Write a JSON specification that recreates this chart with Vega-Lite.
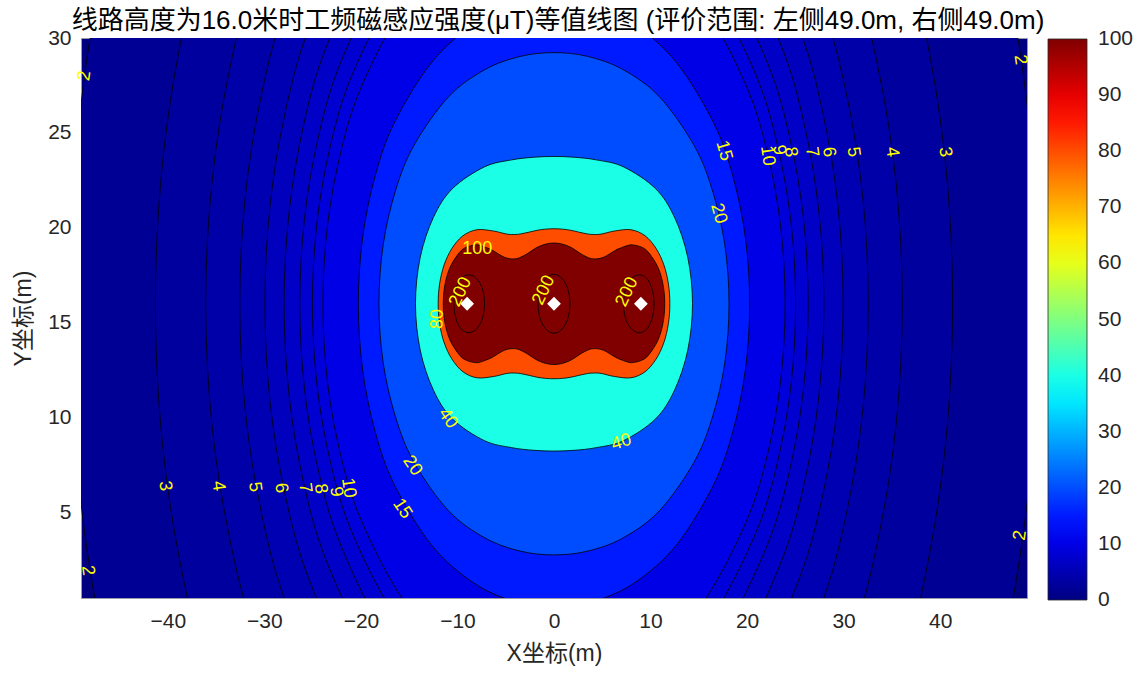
{
"$schema": "https://vega.github.io/schema/vega-lite/v6.json",
"width": 946, "height": 560,
"autosize": {"type": "none"},
"padding": {"left": 81, "top": 38, "right": 116, "bottom": 76},
"background": "white",
"view": {"fill": "#000080", "stroke": "#9a9aa8", "strokeWidth": 1},
"config": {"font": "Liberation Sans"},
"title": {"text": "线路高度为16.0米时工频磁感应强度(μT)等值线图 (评价范围: 左侧49.0m, 右侧49.0m)", "font": "Liberation Sans, Noto Sans CJK SC", "fontSize": 26, "fontWeight": "normal", "color": "#000000", "offset": -7, "anchor": "middle", "dx": 4},
"datasets": {
"c": [
{"lv":2,"g":"2","o":0,"x":50.19,"y":16},{"lv":2,"g":"2","o":1,"x":49.38,"y":24.71},{"lv":2,"g":"2","o":2,"x":46.98,"y":33.1},{"lv":2,"g":"2","o":3,"x":43.11,"y":40.89},{"lv":2,"g":"2","o":4,"x":34.91,"y":50.91},{"lv":2,"g":"2","o":5,"x":24.48,"y":58.4},{"lv":2,"g":"2","o":6,"x":12.6,"y":63.01},{"lv":2,"g":"2","o":7,"x":0,"y":64.56},{"lv":2,"g":"2","o":8,"x":-12.6,"y":63.01},{"lv":2,"g":"2","o":9,"x":-24.48,"y":58.4},{"lv":2,"g":"2","o":10,"x":-34.91,"y":50.91},{"lv":2,"g":"2","o":11,"x":-43.11,"y":40.89},{"lv":2,"g":"2","o":12,"x":-46.98,"y":33.1},{"lv":2,"g":"2","o":13,"x":-49.38,"y":24.71},{"lv":2,"g":"2","o":14,"x":-50.19,"y":16},{"lv":2,"g":"2","o":15,"x":-49.38,"y":7.29},{"lv":2,"g":"2","o":16,"x":-46.98,"y":-1.1},{"lv":2,"g":"2","o":17,"x":-43.11,"y":-8.89},{"lv":2,"g":"2","o":18,"x":-34.91,"y":-18.91},{"lv":2,"g":"2","o":19,"x":-24.48,"y":-26.4},{"lv":2,"g":"2","o":20,"x":-12.6,"y":-31.01},{"lv":2,"g":"2","o":21,"x":0,"y":-32.56},{"lv":2,"g":"2","o":22,"x":12.6,"y":-31.01},{"lv":2,"g":"2","o":23,"x":24.48,"y":-26.4},{"lv":2,"g":"2","o":24,"x":34.91,"y":-18.91},{"lv":2,"g":"2","o":25,"x":43.11,"y":-8.89},{"lv":2,"g":"2","o":26,"x":46.98,"y":-1.1},{"lv":2,"g":"2","o":27,"x":49.38,"y":7.29},
{"lv":3,"g":"3","o":0,"x":41.29,"y":16},{"lv":3,"g":"3","o":1,"x":40.6,"y":23.16},{"lv":3,"g":"3","o":2,"x":38.57,"y":30.04},{"lv":3,"g":"3","o":3,"x":35.32,"y":36.39},{"lv":3,"g":"3","o":4,"x":28.48,"y":44.48},{"lv":3,"g":"3","o":5,"x":19.89,"y":50.45},{"lv":3,"g":"3","o":6,"x":10.2,"y":54.08},{"lv":3,"g":"3","o":7,"x":0,"y":55.29},{"lv":3,"g":"3","o":8,"x":-10.2,"y":54.08},{"lv":3,"g":"3","o":9,"x":-19.89,"y":50.45},{"lv":3,"g":"3","o":10,"x":-28.48,"y":44.48},{"lv":3,"g":"3","o":11,"x":-35.32,"y":36.39},{"lv":3,"g":"3","o":12,"x":-38.57,"y":30.04},{"lv":3,"g":"3","o":13,"x":-40.6,"y":23.16},{"lv":3,"g":"3","o":14,"x":-41.29,"y":16},{"lv":3,"g":"3","o":15,"x":-40.6,"y":8.84},{"lv":3,"g":"3","o":16,"x":-38.57,"y":1.96},{"lv":3,"g":"3","o":17,"x":-35.32,"y":-4.39},{"lv":3,"g":"3","o":18,"x":-28.48,"y":-12.48},{"lv":3,"g":"3","o":19,"x":-19.89,"y":-18.45},{"lv":3,"g":"3","o":20,"x":-10.2,"y":-22.08},{"lv":3,"g":"3","o":21,"x":0,"y":-23.29},{"lv":3,"g":"3","o":22,"x":10.2,"y":-22.08},{"lv":3,"g":"3","o":23,"x":19.89,"y":-18.45},{"lv":3,"g":"3","o":24,"x":28.48,"y":-12.48},{"lv":3,"g":"3","o":25,"x":35.32,"y":-4.39},{"lv":3,"g":"3","o":26,"x":38.57,"y":1.96},{"lv":3,"g":"3","o":27,"x":40.6,"y":8.84},
{"lv":4,"g":"4","o":0,"x":36.08,"y":16},{"lv":4,"g":"4","o":1,"x":35.46,"y":22.25},{"lv":4,"g":"4","o":2,"x":33.64,"y":28.25},{"lv":4,"g":"4","o":3,"x":30.73,"y":33.75},{"lv":4,"g":"4","o":4,"x":24.69,"y":40.69},{"lv":4,"g":"4","o":5,"x":17.17,"y":45.74},{"lv":4,"g":"4","o":6,"x":8.78,"y":48.78},{"lv":4,"g":"4","o":7,"x":0,"y":49.78},{"lv":4,"g":"4","o":8,"x":-8.78,"y":48.78},{"lv":4,"g":"4","o":9,"x":-17.17,"y":45.74},{"lv":4,"g":"4","o":10,"x":-24.69,"y":40.69},{"lv":4,"g":"4","o":11,"x":-30.73,"y":33.75},{"lv":4,"g":"4","o":12,"x":-33.64,"y":28.25},{"lv":4,"g":"4","o":13,"x":-35.46,"y":22.25},{"lv":4,"g":"4","o":14,"x":-36.08,"y":16},{"lv":4,"g":"4","o":15,"x":-35.46,"y":9.75},{"lv":4,"g":"4","o":16,"x":-33.64,"y":3.75},{"lv":4,"g":"4","o":17,"x":-30.73,"y":-1.75},{"lv":4,"g":"4","o":18,"x":-24.69,"y":-8.69},{"lv":4,"g":"4","o":19,"x":-17.17,"y":-13.74},{"lv":4,"g":"4","o":20,"x":-8.78,"y":-16.78},{"lv":4,"g":"4","o":21,"x":0,"y":-17.78},{"lv":4,"g":"4","o":22,"x":8.78,"y":-16.78},{"lv":4,"g":"4","o":23,"x":17.17,"y":-13.74},{"lv":4,"g":"4","o":24,"x":24.69,"y":-8.69},{"lv":4,"g":"4","o":25,"x":30.73,"y":-1.75},{"lv":4,"g":"4","o":26,"x":33.64,"y":3.75},{"lv":4,"g":"4","o":27,"x":35.46,"y":9.75},
{"lv":5,"g":"5","o":0,"x":32.55,"y":16},{"lv":5,"g":"5","o":1,"x":31.98,"y":21.64},{"lv":5,"g":"5","o":2,"x":30.3,"y":27.03},{"lv":5,"g":"5","o":3,"x":27.62,"y":31.95},{"lv":5,"g":"5","o":4,"x":22.1,"y":38.1},{"lv":5,"g":"5","o":5,"x":15.31,"y":42.51},{"lv":5,"g":"5","o":6,"x":7.81,"y":45.13},{"lv":5,"g":"5","o":7,"x":0,"y":46},{"lv":5,"g":"5","o":8,"x":-7.81,"y":45.13},{"lv":5,"g":"5","o":9,"x":-15.31,"y":42.51},{"lv":5,"g":"5","o":10,"x":-22.1,"y":38.1},{"lv":5,"g":"5","o":11,"x":-27.62,"y":31.95},{"lv":5,"g":"5","o":12,"x":-30.3,"y":27.03},{"lv":5,"g":"5","o":13,"x":-31.98,"y":21.64},{"lv":5,"g":"5","o":14,"x":-32.55,"y":16},{"lv":5,"g":"5","o":15,"x":-31.98,"y":10.36},{"lv":5,"g":"5","o":16,"x":-30.3,"y":4.97},{"lv":5,"g":"5","o":17,"x":-27.62,"y":0.05},{"lv":5,"g":"5","o":18,"x":-22.1,"y":-6.1},{"lv":5,"g":"5","o":19,"x":-15.31,"y":-10.51},{"lv":5,"g":"5","o":20,"x":-7.81,"y":-13.13},{"lv":5,"g":"5","o":21,"x":0,"y":-14},{"lv":5,"g":"5","o":22,"x":7.81,"y":-13.13},{"lv":5,"g":"5","o":23,"x":15.31,"y":-10.51},{"lv":5,"g":"5","o":24,"x":22.1,"y":-6.1},{"lv":5,"g":"5","o":25,"x":27.62,"y":0.05},{"lv":5,"g":"5","o":26,"x":30.3,"y":4.97},{"lv":5,"g":"5","o":27,"x":31.98,"y":10.36},
{"lv":6,"g":"6","o":0,"x":29.95,"y":16},{"lv":6,"g":"6","o":1,"x":29.41,"y":21.19},{"lv":6,"g":"6","o":2,"x":27.82,"y":26.13},{"lv":6,"g":"6","o":3,"x":25.31,"y":30.61},{"lv":6,"g":"6","o":4,"x":20.16,"y":36.16},{"lv":6,"g":"6","o":5,"x":13.91,"y":40.1},{"lv":6,"g":"6","o":6,"x":7.08,"y":42.4},{"lv":6,"g":"6","o":7,"x":0,"y":43.16},{"lv":6,"g":"6","o":8,"x":-7.08,"y":42.4},{"lv":6,"g":"6","o":9,"x":-13.91,"y":40.1},{"lv":6,"g":"6","o":10,"x":-20.16,"y":36.16},{"lv":6,"g":"6","o":11,"x":-25.31,"y":30.61},{"lv":6,"g":"6","o":12,"x":-27.82,"y":26.13},{"lv":6,"g":"6","o":13,"x":-29.41,"y":21.19},{"lv":6,"g":"6","o":14,"x":-29.95,"y":16},{"lv":6,"g":"6","o":15,"x":-29.41,"y":10.81},{"lv":6,"g":"6","o":16,"x":-27.82,"y":5.87},{"lv":6,"g":"6","o":17,"x":-25.31,"y":1.39},{"lv":6,"g":"6","o":18,"x":-20.16,"y":-4.16},{"lv":6,"g":"6","o":19,"x":-13.91,"y":-8.1},{"lv":6,"g":"6","o":20,"x":-7.08,"y":-10.4},{"lv":6,"g":"6","o":21,"x":0,"y":-11.16},{"lv":6,"g":"6","o":22,"x":7.08,"y":-10.4},{"lv":6,"g":"6","o":23,"x":13.91,"y":-8.1},{"lv":6,"g":"6","o":24,"x":20.16,"y":-4.16},{"lv":6,"g":"6","o":25,"x":25.31,"y":1.39},{"lv":6,"g":"6","o":26,"x":27.82,"y":5.87},{"lv":6,"g":"6","o":27,"x":29.41,"y":10.81},
{"lv":7,"g":"7","o":0,"x":27.96,"y":16},{"lv":7,"g":"7","o":1,"x":27.44,"y":20.84},{"lv":7,"g":"7","o":2,"x":25.93,"y":25.44},{"lv":7,"g":"7","o":3,"x":23.54,"y":29.59},{"lv":7,"g":"7","o":4,"x":18.68,"y":34.68},{"lv":7,"g":"7","o":5,"x":12.84,"y":38.23},{"lv":7,"g":"7","o":6,"x":6.51,"y":40.29},{"lv":7,"g":"7","o":7,"x":0,"y":40.96},{"lv":7,"g":"7","o":8,"x":-6.51,"y":40.29},{"lv":7,"g":"7","o":9,"x":-12.84,"y":38.23},{"lv":7,"g":"7","o":10,"x":-18.68,"y":34.68},{"lv":7,"g":"7","o":11,"x":-23.54,"y":29.59},{"lv":7,"g":"7","o":12,"x":-25.93,"y":25.44},{"lv":7,"g":"7","o":13,"x":-27.44,"y":20.84},{"lv":7,"g":"7","o":14,"x":-27.96,"y":16},{"lv":7,"g":"7","o":15,"x":-27.44,"y":11.16},{"lv":7,"g":"7","o":16,"x":-25.93,"y":6.56},{"lv":7,"g":"7","o":17,"x":-23.54,"y":2.41},{"lv":7,"g":"7","o":18,"x":-18.68,"y":-2.68},{"lv":7,"g":"7","o":19,"x":-12.84,"y":-6.23},{"lv":7,"g":"7","o":20,"x":-6.51,"y":-8.29},{"lv":7,"g":"7","o":21,"x":0,"y":-8.96},{"lv":7,"g":"7","o":22,"x":6.51,"y":-8.29},{"lv":7,"g":"7","o":23,"x":12.84,"y":-6.23},{"lv":7,"g":"7","o":24,"x":18.68,"y":-2.68},{"lv":7,"g":"7","o":25,"x":23.54,"y":2.41},{"lv":7,"g":"7","o":26,"x":25.93,"y":6.56},{"lv":7,"g":"7","o":27,"x":27.44,"y":11.16},
{"lv":8,"g":"8","o":0,"x":26.33,"y":16},{"lv":8,"g":"8","o":1,"x":25.83,"y":20.56},{"lv":8,"g":"8","o":2,"x":24.37,"y":24.87},{"lv":8,"g":"8","o":3,"x":22.07,"y":28.74},{"lv":8,"g":"8","o":4,"x":17.44,"y":33.44},{"lv":8,"g":"8","o":5,"x":11.94,"y":36.68},{"lv":8,"g":"8","o":6,"x":6.04,"y":38.53},{"lv":8,"g":"8","o":7,"x":0,"y":39.13},{"lv":8,"g":"8","o":8,"x":-6.04,"y":38.53},{"lv":8,"g":"8","o":9,"x":-11.94,"y":36.68},{"lv":8,"g":"8","o":10,"x":-17.44,"y":33.44},{"lv":8,"g":"8","o":11,"x":-22.07,"y":28.74},{"lv":8,"g":"8","o":12,"x":-24.37,"y":24.87},{"lv":8,"g":"8","o":13,"x":-25.83,"y":20.56},{"lv":8,"g":"8","o":14,"x":-26.33,"y":16},{"lv":8,"g":"8","o":15,"x":-25.83,"y":11.44},{"lv":8,"g":"8","o":16,"x":-24.37,"y":7.13},{"lv":8,"g":"8","o":17,"x":-22.07,"y":3.26},{"lv":8,"g":"8","o":18,"x":-17.44,"y":-1.44},{"lv":8,"g":"8","o":19,"x":-11.94,"y":-4.68},{"lv":8,"g":"8","o":20,"x":-6.04,"y":-6.53},{"lv":8,"g":"8","o":21,"x":0,"y":-7.13},{"lv":8,"g":"8","o":22,"x":6.04,"y":-6.53},{"lv":8,"g":"8","o":23,"x":11.94,"y":-4.68},{"lv":8,"g":"8","o":24,"x":17.44,"y":-1.44},{"lv":8,"g":"8","o":25,"x":22.07,"y":3.26},{"lv":8,"g":"8","o":26,"x":24.37,"y":7.13},{"lv":8,"g":"8","o":27,"x":25.83,"y":11.44},
{"lv":9,"g":"9","o":0,"x":25.03,"y":16},{"lv":9,"g":"9","o":1,"x":24.54,"y":20.33},{"lv":9,"g":"9","o":2,"x":23.12,"y":24.42},{"lv":9,"g":"9","o":3,"x":20.9,"y":28.07},{"lv":9,"g":"9","o":4,"x":16.45,"y":32.45},{"lv":9,"g":"9","o":5,"x":11.22,"y":35.43},{"lv":9,"g":"9","o":6,"x":5.65,"y":37.1},{"lv":9,"g":"9","o":7,"x":0,"y":37.64},{"lv":9,"g":"9","o":8,"x":-5.65,"y":37.1},{"lv":9,"g":"9","o":9,"x":-11.22,"y":35.43},{"lv":9,"g":"9","o":10,"x":-16.45,"y":32.45},{"lv":9,"g":"9","o":11,"x":-20.9,"y":28.07},{"lv":9,"g":"9","o":12,"x":-23.12,"y":24.42},{"lv":9,"g":"9","o":13,"x":-24.54,"y":20.33},{"lv":9,"g":"9","o":14,"x":-25.03,"y":16},{"lv":9,"g":"9","o":15,"x":-24.54,"y":11.67},{"lv":9,"g":"9","o":16,"x":-23.12,"y":7.58},{"lv":9,"g":"9","o":17,"x":-20.9,"y":3.93},{"lv":9,"g":"9","o":18,"x":-16.45,"y":-0.45},{"lv":9,"g":"9","o":19,"x":-11.22,"y":-3.43},{"lv":9,"g":"9","o":20,"x":-5.65,"y":-5.1},{"lv":9,"g":"9","o":21,"x":0,"y":-5.64},{"lv":9,"g":"9","o":22,"x":5.65,"y":-5.1},{"lv":9,"g":"9","o":23,"x":11.22,"y":-3.43},{"lv":9,"g":"9","o":24,"x":16.45,"y":-0.45},{"lv":9,"g":"9","o":25,"x":20.9,"y":3.93},{"lv":9,"g":"9","o":26,"x":23.12,"y":7.58},{"lv":9,"g":"9","o":27,"x":24.54,"y":11.67},
{"lv":10,"g":"10","o":0,"x":23.94,"y":16},{"lv":10,"g":"10","o":1,"x":23.46,"y":20.14},{"lv":10,"g":"10","o":2,"x":22.07,"y":24.03},{"lv":10,"g":"10","o":3,"x":19.9,"y":27.49},{"lv":10,"g":"10","o":4,"x":15.61,"y":31.61},{"lv":10,"g":"10","o":5,"x":10.6,"y":34.36},{"lv":10,"g":"10","o":6,"x":5.33,"y":35.89},{"lv":10,"g":"10","o":7,"x":0,"y":36.37},{"lv":10,"g":"10","o":8,"x":-5.33,"y":35.89},{"lv":10,"g":"10","o":9,"x":-10.6,"y":34.36},{"lv":10,"g":"10","o":10,"x":-15.61,"y":31.61},{"lv":10,"g":"10","o":11,"x":-19.9,"y":27.49},{"lv":10,"g":"10","o":12,"x":-22.07,"y":24.03},{"lv":10,"g":"10","o":13,"x":-23.46,"y":20.14},{"lv":10,"g":"10","o":14,"x":-23.94,"y":16},{"lv":10,"g":"10","o":15,"x":-23.46,"y":11.86},{"lv":10,"g":"10","o":16,"x":-22.07,"y":7.97},{"lv":10,"g":"10","o":17,"x":-19.9,"y":4.51},{"lv":10,"g":"10","o":18,"x":-15.61,"y":0.39},{"lv":10,"g":"10","o":19,"x":-10.6,"y":-2.36},{"lv":10,"g":"10","o":20,"x":-5.33,"y":-3.89},{"lv":10,"g":"10","o":21,"x":0,"y":-4.37},{"lv":10,"g":"10","o":22,"x":5.33,"y":-3.89},{"lv":10,"g":"10","o":23,"x":10.6,"y":-2.36},{"lv":10,"g":"10","o":24,"x":15.61,"y":0.39},{"lv":10,"g":"10","o":25,"x":19.9,"y":4.51},{"lv":10,"g":"10","o":26,"x":22.07,"y":7.97},{"lv":10,"g":"10","o":27,"x":23.46,"y":11.86},
{"lv":15,"g":"15","o":0,"x":20.27,"y":16},{"lv":15,"g":"15","o":1,"x":19.82,"y":19.5},{"lv":15,"g":"15","o":2,"x":18.52,"y":22.74},{"lv":15,"g":"15","o":3,"x":16.53,"y":25.54},{"lv":15,"g":"15","o":4,"x":12.7,"y":28.7},{"lv":15,"g":"15","o":5,"x":8.46,"y":30.66},{"lv":15,"g":"15","o":6,"x":4.2,"y":31.67},{"lv":15,"g":"15","o":7,"x":0,"y":31.97},{"lv":15,"g":"15","o":8,"x":-4.2,"y":31.67},{"lv":15,"g":"15","o":9,"x":-8.46,"y":30.66},{"lv":15,"g":"15","o":10,"x":-12.7,"y":28.7},{"lv":15,"g":"15","o":11,"x":-16.53,"y":25.54},{"lv":15,"g":"15","o":12,"x":-18.52,"y":22.74},{"lv":15,"g":"15","o":13,"x":-19.82,"y":19.5},{"lv":15,"g":"15","o":14,"x":-20.27,"y":16},{"lv":15,"g":"15","o":15,"x":-19.82,"y":12.5},{"lv":15,"g":"15","o":16,"x":-18.52,"y":9.26},{"lv":15,"g":"15","o":17,"x":-16.53,"y":6.46},{"lv":15,"g":"15","o":18,"x":-12.7,"y":3.3},{"lv":15,"g":"15","o":19,"x":-8.46,"y":1.34},{"lv":15,"g":"15","o":20,"x":-4.2,"y":0.33},{"lv":15,"g":"15","o":21,"x":0,"y":0.03},{"lv":15,"g":"15","o":22,"x":4.2,"y":0.33},{"lv":15,"g":"15","o":23,"x":8.46,"y":1.34},{"lv":15,"g":"15","o":24,"x":12.7,"y":3.3},{"lv":15,"g":"15","o":25,"x":16.53,"y":6.46},{"lv":15,"g":"15","o":26,"x":18.52,"y":9.26},{"lv":15,"g":"15","o":27,"x":19.82,"y":12.5},
{"lv":20,"g":"20","o":0,"x":18.13,"y":16},{"lv":20,"g":"20","o":1,"x":17.69,"y":19.12},{"lv":20,"g":"20","o":2,"x":16.41,"y":21.97},{"lv":20,"g":"20","o":3,"x":14.49,"y":24.36},{"lv":20,"g":"20","o":4,"x":10.91,"y":26.91},{"lv":20,"g":"20","o":5,"x":7.13,"y":28.34},{"lv":20,"g":"20","o":6,"x":3.49,"y":29.03},{"lv":20,"g":"20","o":7,"x":0,"y":29.23},{"lv":20,"g":"20","o":8,"x":-3.49,"y":29.03},{"lv":20,"g":"20","o":9,"x":-7.13,"y":28.34},{"lv":20,"g":"20","o":10,"x":-10.91,"y":26.91},{"lv":20,"g":"20","o":11,"x":-14.49,"y":24.36},{"lv":20,"g":"20","o":12,"x":-16.41,"y":21.97},{"lv":20,"g":"20","o":13,"x":-17.69,"y":19.12},{"lv":20,"g":"20","o":14,"x":-18.13,"y":16},{"lv":20,"g":"20","o":15,"x":-17.69,"y":12.88},{"lv":20,"g":"20","o":16,"x":-16.41,"y":10.03},{"lv":20,"g":"20","o":17,"x":-14.49,"y":7.64},{"lv":20,"g":"20","o":18,"x":-10.91,"y":5.09},{"lv":20,"g":"20","o":19,"x":-7.13,"y":3.66},{"lv":20,"g":"20","o":20,"x":-3.49,"y":2.97},{"lv":20,"g":"20","o":21,"x":0,"y":2.77},{"lv":20,"g":"20","o":22,"x":3.49,"y":2.97},{"lv":20,"g":"20","o":23,"x":7.13,"y":3.66},{"lv":20,"g":"20","o":24,"x":10.91,"y":5.09},{"lv":20,"g":"20","o":25,"x":14.49,"y":7.64},{"lv":20,"g":"20","o":26,"x":16.41,"y":10.03},{"lv":20,"g":"20","o":27,"x":17.69,"y":12.88},
{"lv":40,"g":"40","o":0,"x":14.35,"y":16},{"lv":40,"g":"40","o":1,"x":13.86,"y":18.44},{"lv":40,"g":"40","o":2,"x":12.49,"y":20.55},{"lv":40,"g":"40","o":3,"x":10.51,"y":22.07},{"lv":40,"g":"40","o":4,"x":7.21,"y":23.21},{"lv":40,"g":"40","o":5,"x":4.38,"y":23.58},{"lv":40,"g":"40","o":6,"x":2.07,"y":23.72},{"lv":40,"g":"40","o":7,"x":0,"y":23.76},{"lv":40,"g":"40","o":8,"x":-2.07,"y":23.72},{"lv":40,"g":"40","o":9,"x":-4.38,"y":23.58},{"lv":40,"g":"40","o":10,"x":-7.21,"y":23.21},{"lv":40,"g":"40","o":11,"x":-10.51,"y":22.07},{"lv":40,"g":"40","o":12,"x":-12.49,"y":20.55},{"lv":40,"g":"40","o":13,"x":-13.86,"y":18.44},{"lv":40,"g":"40","o":14,"x":-14.35,"y":16},{"lv":40,"g":"40","o":15,"x":-13.86,"y":13.56},{"lv":40,"g":"40","o":16,"x":-12.49,"y":11.45},{"lv":40,"g":"40","o":17,"x":-10.51,"y":9.93},{"lv":40,"g":"40","o":18,"x":-7.21,"y":8.79},{"lv":40,"g":"40","o":19,"x":-4.38,"y":8.42},{"lv":40,"g":"40","o":20,"x":-2.07,"y":8.28},{"lv":40,"g":"40","o":21,"x":0,"y":8.24},{"lv":40,"g":"40","o":22,"x":2.07,"y":8.28},{"lv":40,"g":"40","o":23,"x":4.38,"y":8.42},{"lv":40,"g":"40","o":24,"x":7.21,"y":8.79},{"lv":40,"g":"40","o":25,"x":10.51,"y":9.93},{"lv":40,"g":"40","o":26,"x":12.49,"y":11.45},{"lv":40,"g":"40","o":27,"x":13.86,"y":13.56},
{"lv":80,"g":"80","o":0,"x":12,"y":16},{"lv":80,"g":"80","o":1,"x":11.85,"y":17.05},{"lv":80,"g":"80","o":2,"x":11.38,"y":18.05},{"lv":80,"g":"80","o":3,"x":10.58,"y":18.91},{"lv":80,"g":"80","o":4,"x":9.44,"y":19.58},{"lv":80,"g":"80","o":5,"x":7.97,"y":19.9},{"lv":80,"g":"80","o":6,"x":6.25,"y":19.83},{"lv":80,"g":"80","o":7,"x":4.89,"y":19.67},{"lv":80,"g":"80","o":8,"x":4.05,"y":19.65},{"lv":80,"g":"80","o":9,"x":3.44,"y":19.68},{"lv":80,"g":"80","o":10,"x":2.52,"y":19.78},{"lv":80,"g":"80","o":11,"x":1.74,"y":19.87},{"lv":80,"g":"80","o":12,"x":0.9,"y":19.93},{"lv":80,"g":"80","o":13,"x":0,"y":19.95},{"lv":80,"g":"80","o":14,"x":-0.9,"y":19.93},{"lv":80,"g":"80","o":15,"x":-1.74,"y":19.87},{"lv":80,"g":"80","o":16,"x":-2.52,"y":19.78},{"lv":80,"g":"80","o":17,"x":-3.44,"y":19.68},{"lv":80,"g":"80","o":18,"x":-4.05,"y":19.65},{"lv":80,"g":"80","o":19,"x":-4.89,"y":19.67},{"lv":80,"g":"80","o":20,"x":-6.25,"y":19.83},{"lv":80,"g":"80","o":21,"x":-7.97,"y":19.9},{"lv":80,"g":"80","o":22,"x":-9.44,"y":19.58},{"lv":80,"g":"80","o":23,"x":-10.58,"y":18.91},{"lv":80,"g":"80","o":24,"x":-11.38,"y":18.05},{"lv":80,"g":"80","o":25,"x":-11.85,"y":17.05},{"lv":80,"g":"80","o":26,"x":-12,"y":16},{"lv":80,"g":"80","o":27,"x":-11.85,"y":14.95},{"lv":80,"g":"80","o":28,"x":-11.38,"y":13.95},{"lv":80,"g":"80","o":29,"x":-10.58,"y":13.09},{"lv":80,"g":"80","o":30,"x":-9.44,"y":12.42},{"lv":80,"g":"80","o":31,"x":-7.97,"y":12.1},{"lv":80,"g":"80","o":32,"x":-6.25,"y":12.17},{"lv":80,"g":"80","o":33,"x":-4.89,"y":12.33},{"lv":80,"g":"80","o":34,"x":-4.05,"y":12.35},{"lv":80,"g":"80","o":35,"x":-3.44,"y":12.32},{"lv":80,"g":"80","o":36,"x":-2.52,"y":12.22},{"lv":80,"g":"80","o":37,"x":-1.74,"y":12.13},{"lv":80,"g":"80","o":38,"x":-0.9,"y":12.07},{"lv":80,"g":"80","o":39,"x":0,"y":12.05},{"lv":80,"g":"80","o":40,"x":0.9,"y":12.07},{"lv":80,"g":"80","o":41,"x":1.74,"y":12.13},{"lv":80,"g":"80","o":42,"x":2.52,"y":12.22},{"lv":80,"g":"80","o":43,"x":3.44,"y":12.32},{"lv":80,"g":"80","o":44,"x":4.05,"y":12.35},{"lv":80,"g":"80","o":45,"x":4.89,"y":12.33},{"lv":80,"g":"80","o":46,"x":6.25,"y":12.17},{"lv":80,"g":"80","o":47,"x":7.97,"y":12.1},{"lv":80,"g":"80","o":48,"x":9.44,"y":12.42},{"lv":80,"g":"80","o":49,"x":10.58,"y":13.09},{"lv":80,"g":"80","o":50,"x":11.38,"y":13.95},{"lv":80,"g":"80","o":51,"x":11.85,"y":14.95},
{"lv":100,"g":"100","o":0,"x":11.47,"y":16},{"lv":100,"g":"100","o":1,"x":11.3,"y":17},{"lv":100,"g":"100","o":2,"x":10.76,"y":17.93},{"lv":100,"g":"100","o":3,"x":9.8,"y":18.7},{"lv":100,"g":"100","o":4,"x":9.08,"y":18.98},{"lv":100,"g":"100","o":5,"x":8.15,"y":19.1},{"lv":100,"g":"100","o":6,"x":7.63,"y":19.07},{"lv":100,"g":"100","o":7,"x":6.81,"y":18.92},{"lv":100,"g":"100","o":8,"x":6.38,"y":18.82},{"lv":100,"g":"100","o":9,"x":5.14,"y":18.45},{"lv":100,"g":"100","o":10,"x":4.21,"y":18.36},{"lv":100,"g":"100","o":11,"x":3.59,"y":18.42},{"lv":100,"g":"100","o":12,"x":2.82,"y":18.62},{"lv":100,"g":"100","o":13,"x":2.2,"y":18.83},{"lv":100,"g":"100","o":14,"x":1.63,"y":19},{"lv":100,"g":"100","o":15,"x":0.81,"y":19.15},{"lv":100,"g":"100","o":16,"x":0,"y":19.2},{"lv":100,"g":"100","o":17,"x":-0.81,"y":19.15},{"lv":100,"g":"100","o":18,"x":-1.63,"y":19},{"lv":100,"g":"100","o":19,"x":-2.2,"y":18.83},{"lv":100,"g":"100","o":20,"x":-2.82,"y":18.62},{"lv":100,"g":"100","o":21,"x":-3.59,"y":18.42},{"lv":100,"g":"100","o":22,"x":-4.21,"y":18.36},{"lv":100,"g":"100","o":23,"x":-5.14,"y":18.45},{"lv":100,"g":"100","o":24,"x":-6.38,"y":18.82},{"lv":100,"g":"100","o":25,"x":-6.81,"y":18.92},{"lv":100,"g":"100","o":26,"x":-7.63,"y":19.07},{"lv":100,"g":"100","o":27,"x":-8.15,"y":19.1},{"lv":100,"g":"100","o":28,"x":-9.08,"y":18.98},{"lv":100,"g":"100","o":29,"x":-9.8,"y":18.7},{"lv":100,"g":"100","o":30,"x":-10.76,"y":17.93},{"lv":100,"g":"100","o":31,"x":-11.3,"y":17},{"lv":100,"g":"100","o":32,"x":-11.47,"y":16},{"lv":100,"g":"100","o":33,"x":-11.3,"y":15},{"lv":100,"g":"100","o":34,"x":-10.76,"y":14.07},{"lv":100,"g":"100","o":35,"x":-9.8,"y":13.3},{"lv":100,"g":"100","o":36,"x":-9.08,"y":13.02},{"lv":100,"g":"100","o":37,"x":-8.15,"y":12.9},{"lv":100,"g":"100","o":38,"x":-7.63,"y":12.93},{"lv":100,"g":"100","o":39,"x":-6.81,"y":13.08},{"lv":100,"g":"100","o":40,"x":-6.38,"y":13.18},{"lv":100,"g":"100","o":41,"x":-5.14,"y":13.55},{"lv":100,"g":"100","o":42,"x":-4.21,"y":13.64},{"lv":100,"g":"100","o":43,"x":-3.59,"y":13.58},{"lv":100,"g":"100","o":44,"x":-2.82,"y":13.38},{"lv":100,"g":"100","o":45,"x":-2.2,"y":13.17},{"lv":100,"g":"100","o":46,"x":-1.63,"y":13},{"lv":100,"g":"100","o":47,"x":-0.81,"y":12.85},{"lv":100,"g":"100","o":48,"x":0,"y":12.8},{"lv":100,"g":"100","o":49,"x":0.81,"y":12.85},{"lv":100,"g":"100","o":50,"x":1.63,"y":13},{"lv":100,"g":"100","o":51,"x":2.2,"y":13.17},{"lv":100,"g":"100","o":52,"x":2.82,"y":13.38},{"lv":100,"g":"100","o":53,"x":3.59,"y":13.58},{"lv":100,"g":"100","o":54,"x":4.21,"y":13.64},{"lv":100,"g":"100","o":55,"x":5.14,"y":13.55},{"lv":100,"g":"100","o":56,"x":6.38,"y":13.18},{"lv":100,"g":"100","o":57,"x":6.81,"y":13.08},{"lv":100,"g":"100","o":58,"x":7.63,"y":12.93},{"lv":100,"g":"100","o":59,"x":8.15,"y":12.9},{"lv":100,"g":"100","o":60,"x":9.08,"y":13.02},{"lv":100,"g":"100","o":61,"x":9.8,"y":13.3},{"lv":100,"g":"100","o":62,"x":10.76,"y":14.07},{"lv":100,"g":"100","o":63,"x":11.3,"y":15},
{"lv":200,"g":"200L","o":0,"x":-10.37,"y":16},{"lv":200,"g":"200L","o":1,"x":-10.2,"y":16.69},{"lv":200,"g":"200L","o":2,"x":-9.73,"y":17.26},{"lv":200,"g":"200L","o":3,"x":-9,"y":17.52},{"lv":200,"g":"200L","o":4,"x":-8.19,"y":17.4},{"lv":200,"g":"200L","o":5,"x":-7.48,"y":16.88},{"lv":200,"g":"200L","o":6,"x":-7.19,"y":16},{"lv":200,"g":"200L","o":7,"x":-7.48,"y":15.12},{"lv":200,"g":"200L","o":8,"x":-8.19,"y":14.6},{"lv":200,"g":"200L","o":9,"x":-9,"y":14.48},{"lv":200,"g":"200L","o":10,"x":-9.73,"y":14.74},{"lv":200,"g":"200L","o":11,"x":-10.2,"y":15.31},
{"lv":200,"g":"200M","o":0,"x":1.66,"y":16},{"lv":200,"g":"200M","o":1,"x":1.41,"y":16.81},{"lv":200,"g":"200M","o":2,"x":0.79,"y":17.36},{"lv":200,"g":"200M","o":3,"x":0,"y":17.55},{"lv":200,"g":"200M","o":4,"x":-0.79,"y":17.36},{"lv":200,"g":"200M","o":5,"x":-1.41,"y":16.81},{"lv":200,"g":"200M","o":6,"x":-1.66,"y":16},{"lv":200,"g":"200M","o":7,"x":-1.41,"y":15.19},{"lv":200,"g":"200M","o":8,"x":-0.79,"y":14.64},{"lv":200,"g":"200M","o":9,"x":0,"y":14.45},{"lv":200,"g":"200M","o":10,"x":0.79,"y":14.64},{"lv":200,"g":"200M","o":11,"x":1.41,"y":15.19},
{"lv":200,"g":"200R","o":0,"x":10.37,"y":16},{"lv":200,"g":"200R","o":1,"x":10.2,"y":16.69},{"lv":200,"g":"200R","o":2,"x":9.73,"y":17.26},{"lv":200,"g":"200R","o":3,"x":9,"y":17.52},{"lv":200,"g":"200R","o":4,"x":8.19,"y":17.4},{"lv":200,"g":"200R","o":5,"x":7.48,"y":16.88},{"lv":200,"g":"200R","o":6,"x":7.19,"y":16},{"lv":200,"g":"200R","o":7,"x":7.48,"y":15.12},{"lv":200,"g":"200R","o":8,"x":8.19,"y":14.6},{"lv":200,"g":"200R","o":9,"x":9,"y":14.48},{"lv":200,"g":"200R","o":10,"x":9.73,"y":14.74},{"lv":200,"g":"200R","o":11,"x":10.2,"y":15.31}
],
"cond": [{"x":-9,"y":16},{"x":0,"y":16},{"x":9,"y":16}],
"tA": [{"x":40.5,"y":24.0,"t":"3"},{"x":35.0,"y":24.0,"t":"4"},{"x":31.0,"y":24.0,"t":"5"},{"x":28.45,"y":24.0,"t":"6"},{"x":26.7,"y":24.0,"t":"7"},{"x":24.5,"y":24.0,"t":"8"},{"x":23.3,"y":24.1,"t":"9"},{"x":22.1,"y":23.8,"t":"10"},{"x":-40.3,"y":6.4,"t":"3"},{"x":-34.8,"y":6.4,"t":"4"},{"x":-31.0,"y":6.35,"t":"5"},{"x":-28.3,"y":6.3,"t":"6"},{"x":-25.8,"y":6.3,"t":"7"},{"x":-24.2,"y":6.25,"t":"8"},{"x":-22.6,"y":6.1,"t":"9"},{"x":-21.3,"y":6.3,"t":"10"},{"x":48.3,"y":28.85,"t":"2"},{"x":-48.3,"y":1.95,"t":"2"}],
"tC": [{"x":-48.6,"y":28.0,"t":"2"},{"x":48.3,"y":3.8,"t":"2"}],
"tB": [{"x":17.58,"y":24.06,"t":"15"},{"x":17.06,"y":20.75,"t":"20"}],
"tH": [{"x":-14.68,"y":7.47,"t":"20"},{"x":-15.72,"y":5.2,"t":"15"},{"x":-11.0,"y":9.96,"t":"40"}],
"tI": [{"x":7.0,"y":8.7,"t":"40"}],
"tE": [{"x":-12.06,"y":15.2,"t":"80"}],
"tF": [{"x":-7.95,"y":18.91,"t":"100"}],
"tG": [{"x":-9.68,"y":16.62,"t":"200"},{"x":-1.05,"y":16.71,"t":"200"},{"x":7.58,"y":16.62,"t":"200"}]
},
"encoding": {
"x": {"field": "x", "type": "quantitative", "scale": {"domain": [-49, 49], "nice": false, "zero": false},
"axis": {"values": [-40,-30,-20,-10,0,10,20,30,40], "title": "X坐标(m)", "grid": false, "domain": false, "ticks": false, "tickSize": 0, "labelFont": "Liberation Sans", "labelFontSize": 21, "labelColor": "#262626", "labelPadding": 12, "titleFont": "Liberation Sans, Noto Sans CJK SC", "titleFontSize": 23, "titleFontWeight": "normal", "titleColor": "#262626", "titlePadding": 11}},
"y": {"field": "y", "type": "quantitative", "scale": {"domain": [0.5, 30], "nice": false, "zero": false},
"axis": {"values": [5,10,15,20,25,30], "title": "Y坐标(m)", "grid": false, "domain": false, "ticks": false, "tickSize": 0, "labelFont": "Liberation Sans", "labelFontSize": 21, "labelColor": "#262626", "labelPadding": 10, "titleFont": "Liberation Sans, Noto Sans CJK SC", "titleFontSize": 23, "titleFontWeight": "normal", "titleColor": "#262626", "titlePadding": 12}}
},
"layer": [
{"data": {"name": "c"},
 "mark": {"type": "line", "interpolate": "cardinal-closed", "stroke": "#000000", "strokeWidth": 0.8, "clip": true},
 "encoding": {
  "detail": {"field": "g", "type": "nominal"},
  "order": {"field": "o", "type": "quantitative"},
  "fill": {"field": "lv", "type": "quantitative",
   "scale": {"domain": [0, 12.5, 37.5, 62.5, 87.5, 100], "range": ["#000080", "#0000ff", "#00ffff", "#ffff00", "#ff0000", "#800000"], "interpolate": "rgb", "clamp": true},
   "legend": {"title": null, "orient": "none", "legendX": 967, "legendY": 1, "direction": "vertical", "gradientLength": 561, "gradientThickness": 39, "values": [0,10,20,30,40,50,60,70,80,90,100], "labelFont": "Liberation Sans", "labelFontSize": 21, "labelColor": "#262626", "labelOffset": 11, "labelOverlap": false, "gradientStrokeColor": "#262626", "gradientStrokeWidth": 0.8, "padding": 0,
     "encode": {"labels": {"update": {"baseline": {"value": "middle"}}}}}}
 }},
{"data": {"name": "cond"}, "mark": {"type": "point", "shape": "diamond", "filled": true, "color": "#ffffff", "opacity": 1, "size": 190}},
{"data": {"name": "tA"}, "mark": {"type": "text", "color": "#ffff00", "fontSize": 18, "angle": 82, "align": "center", "baseline": "middle"}, "encoding": {"text": {"field": "t"}}},
{"data": {"name": "tC"}, "mark": {"type": "text", "color": "#ffff00", "fontSize": 18, "angle": -82, "align": "center", "baseline": "middle"}, "encoding": {"text": {"field": "t"}}},
{"data": {"name": "tB"}, "mark": {"type": "text", "color": "#ffff00", "fontSize": 18, "angle": 74, "align": "center", "baseline": "middle"}, "encoding": {"text": {"field": "t"}}},
{"data": {"name": "tH"}, "mark": {"type": "text", "color": "#ffff00", "fontSize": 18, "angle": 56, "align": "center", "baseline": "middle"}, "encoding": {"text": {"field": "t"}}},
{"data": {"name": "tI"}, "mark": {"type": "text", "color": "#ffff00", "fontSize": 18, "angle": -18, "align": "center", "baseline": "middle"}, "encoding": {"text": {"field": "t"}}},
{"data": {"name": "tE"}, "mark": {"type": "text", "color": "#ffff00", "fontSize": 18, "angle": -88, "align": "center", "baseline": "middle"}, "encoding": {"text": {"field": "t"}}},
{"data": {"name": "tF"}, "mark": {"type": "text", "color": "#ffff00", "fontSize": 18, "angle": 0, "align": "center", "baseline": "middle"}, "encoding": {"text": {"field": "t"}}},
{"data": {"name": "tG"}, "mark": {"type": "text", "color": "#ffff00", "fontSize": 18, "angle": -65, "align": "center", "baseline": "middle"}, "encoding": {"text": {"field": "t"}}}
]
}
